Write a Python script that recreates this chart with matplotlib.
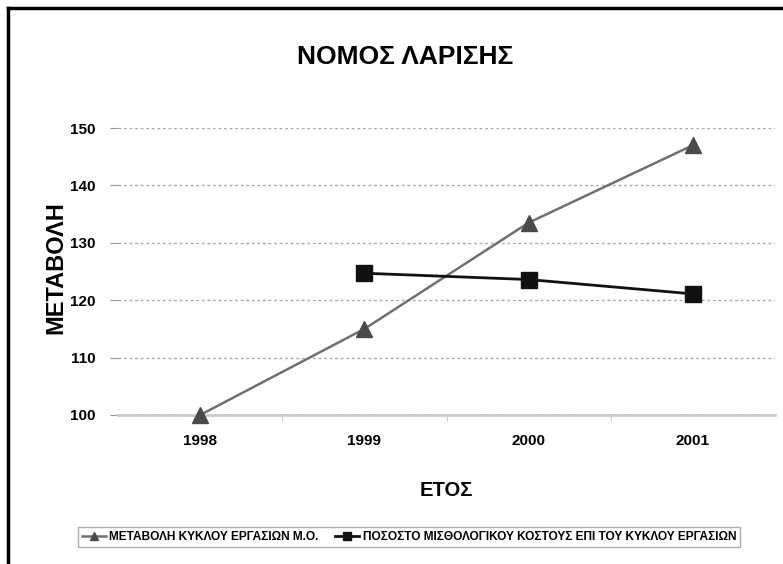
import matplotlib
matplotlib.use("Agg")
import matplotlib.pyplot as plt
from matplotlib.lines import Line2D

plt.rcParams['font.family'] = ['Liberation Sans', 'DejaVu Sans']

# data
years = ["1998", "1999", "2000", "2001"]
turnover_change = [100, 115, 133.5, 147]
salary_share = [None, 124.7, 123.6, 121.1]
label_turnover = "ΜΕΤΑΒΟΛΗ ΚΥΚΛΟΥ ΕΡΓΑΣΙΩΝ Μ.Ο."
label_salary = "ΠΟΣΟΣΤΟ ΜΙΣΘΟΛΟΓΙΚΟΥ ΚΟΣΤΟΥΣ ΕΠΙ ΤΟΥ ΚΥΚΛΟΥ ΕΡΓΑΣΙΩΝ"
y_ticks = [100, 110, 120, 130, 140, 150]

W, H = 783, 564
fig = plt.figure(figsize=(W / 100, H / 100), dpi=100)
ax = fig.add_axes([118 / W, 1 - 415 / H, (775 - 118) / W, (415 - 128) / H])

x = list(range(len(years)))
ax.plot(x, turnover_change, color="#707070", lw=1.8, marker="^", ms=11,
        mfc="#4a4a4a", mec="#4a4a4a", label=label_turnover, clip_on=False, zorder=3)
xs = [i for i, v in zip(x, salary_share) if v is not None]
ys = [v for v in salary_share if v is not None]
ax.plot(xs, ys, color="#111111", lw=2, marker="s", ms=12,
        mfc="#111111", mec="#111111", label=label_salary, clip_on=False, zorder=4)

ax.set_xlim(-0.5, 3.5)
ax.set_ylim(100, 150)
ax.set_yticks(y_ticks)
ax.set_xticks(x)
ax.set_xticklabels(years)
ax.set_xticks([0.5, 1.5, 2.5], minor=True)
ax.tick_params(axis="x", which="major", length=0, pad=14)
ax.tick_params(axis="x", which="minor", length=4, color="#bbbbbb")
ax.tick_params(axis="y", length=6, color="#999999", pad=10)
for lab in ax.get_xticklabels() + ax.get_yticklabels():
    lab.set_fontweight("bold")
    lab.set_fontsize(11)

ax.grid(axis="y", color="#aaaaaa", lw=1, ls=(0, (2, 2)))
for s in ["top", "right", "left"]:
    ax.spines[s].set_visible(False)
ax.spines["bottom"].set_color("#cccccc")
ax.spines["bottom"].set_linewidth(2)

fig.text(405 / W, 1 - 57 / H, "ΝΟΜΟΣ ΛΑΡΙΣΗΣ", ha="center", va="center",
         fontsize=19, fontweight="bold")
fig.text(56 / W, 1 - 268 / H, "ΜΕΤΑΒΟΛΗ", ha="center", va="center",
         rotation=90, fontsize=17, fontweight="bold")
fig.text(446 / W, 1 - 490 / H, "ΕΤΟΣ", ha="center", va="center",
         fontsize=14.5, fontweight="bold")

leg = fig.legend(loc="center", bbox_to_anchor=(409 / W, 1 - 537 / H), ncol=2,
                 fontsize=8.6, frameon=True, fancybox=False, edgecolor="#999999",
                 handlelength=2.0, columnspacing=1.4, handletextpad=0.3,
                 borderpad=0.35, markerscale=0.5)
for t in leg.get_texts():
    t.set_fontweight("bold")

# frame of the original picture (top and left edges visible)
fig.add_artist(Line2D([8 / W, 8 / W], [0, 1 - 8 / H], transform=fig.transFigure,
                      color="black", lw=2.5))
fig.add_artist(Line2D([8 / W, 1], [1 - 8 / H, 1 - 8 / H], transform=fig.transFigure,
                      color="black", lw=2.5))

fig.savefig("out.png", dpi=100)
